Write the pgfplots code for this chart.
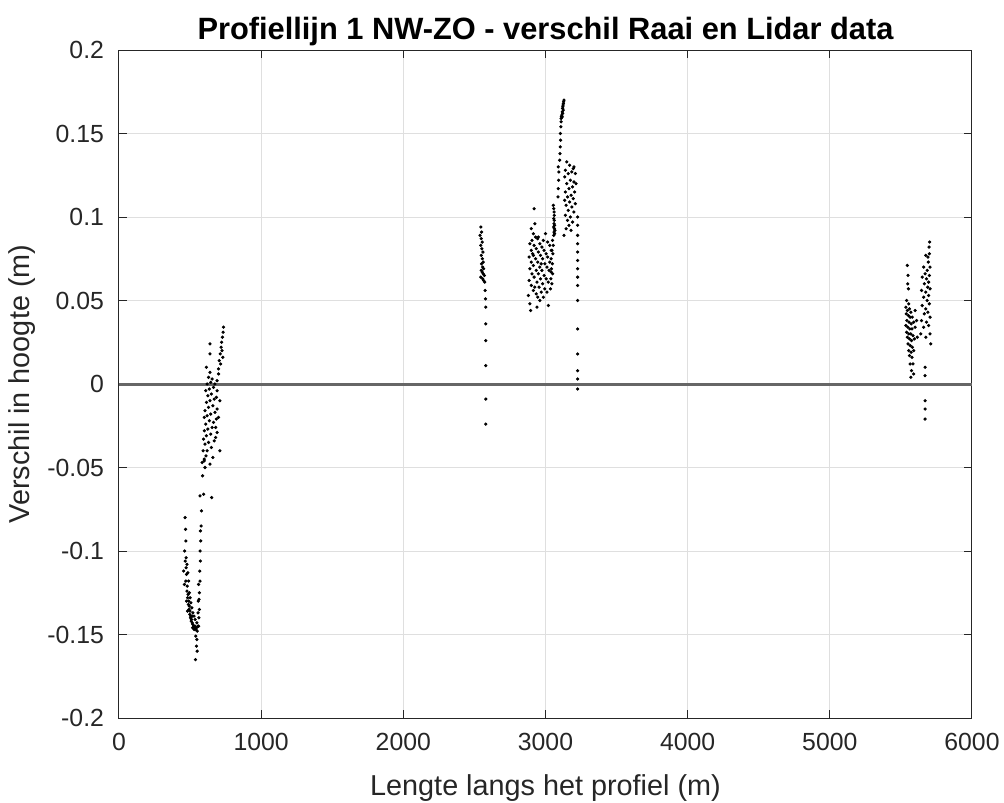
\documentclass[border=0pt]{standalone}
\usepackage{pgfplots}
\pgfplotsset{compat=1.18}
\usepackage{fontspec}
\setmainfont{Liberation Sans}
\definecolor{mgray}{gray}{0.15}
\begin{document}
\begin{tikzpicture}
\useasboundingbox (-59.5bp,-42.5bp) rectangle (442.5bp,359bp);
\begin{axis}[
  scale only axis, width=426.5bp, height=334bp,
  xmin=0, xmax=6000, ymin=-0.2, ymax=0.2,
  xtick={0,1000,2000,3000,4000,5000,6000},
  xticklabels={0,1000,2000,3000,4000,5000,6000},
  ytick={-0.2,-0.15,-0.1,-0.05,0,0.05,0.1,0.15,0.2},
  yticklabels={-0.2,-0.15,-0.1,-0.05,0,0.05,0.1,0.15,0.2},
  tick align=inside, major tick length=4bp,
  xtick pos=both, ytick pos=both,
  axis line style={mgray, line width=0.5bp},
  tick style={mgray, line width=0.5bp},
  grid=major, grid style={gray!25, line width=0.5bp},
  ticklabel style={font=\fontsize{12.4bp}{14bp}\selectfont, text=mgray},
  yticklabel style={xshift=-4bp},
  xticklabel style={yshift=-4bp},
  /pgf/number format/assume math mode=true,
  xlabel={Lengte langs het profiel (m)},
  ylabel={Verschil in hoogte (m)},
  label style={font=\fontsize{14.4bp}{16bp}\selectfont, text=mgray},
  xlabel style={yshift=-5bp},
  ylabel style={yshift=-1bp},
  title={Profiellijn 1 NW-ZO - verschil Raai en Lidar data},
  title style={font=\fontsize{15.4bp}{17bp}\selectfont\bfseries, yshift=-7.5bp},
]
\addplot[no marks, black!60, line width=1.5bp] coordinates {(0,0) (6000,0)};
\addplot[only marks, mark=*, mark size=0.6bp, black] coordinates {
(465,-0.080)(468,-0.087)(470,-0.094)(462,-0.100)(466,-0.106)(472,-0.110)(475,-0.114)(470,-0.118)(480,-0.121)(478,-0.124)(486,-0.126)(483,-0.128)(490,-0.130)(488,-0.132)(495,-0.133)(492,-0.135)(500,-0.136)(498,-0.138)(505,-0.139)(503,-0.140)(510,-0.141)(508,-0.142)(515,-0.143)(520,-0.144)(525,-0.145)(518,-0.146)(530,-0.146)(528,-0.147)(535,-0.145)(540,-0.147)(545,-0.146)(550,-0.148)(555,-0.145)(548,-0.143)(536,-0.141)(528,-0.139)(520,-0.137)(512,-0.134)(506,-0.131)(500,-0.128)(495,-0.125)(490,-0.118)(484,-0.113)(478,-0.108)(472,-0.104)(455,-0.112)(460,-0.120)(475,-0.130)(482,-0.136)(515,-0.139)(540,-0.151)(545,-0.157)(550,-0.160)(538,-0.165)(548,-0.153)
(560,-0.145)(562,-0.140)(565,-0.135)(558,-0.130)(566,-0.125)(570,-0.118)(568,-0.112)(572,-0.106)(570,-0.100)(575,-0.094)(573,-0.088)(578,-0.085)(560,-0.120)(556,-0.137)(563,-0.129)
(580,-0.076)(570,-0.067)(595,-0.066)(588,-0.055)(585,-0.047)(592,-0.040)(600,-0.045)(605,-0.050)
(600,-0.046)(612,-0.043)(640,-0.048)(660,-0.044)(620,-0.040)(650,-0.038)(605,-0.036)(630,-0.035)(670,-0.034)(615,-0.031)(645,-0.030)(680,-0.032)(600,-0.028)(625,-0.027)(655,-0.026)(690,-0.029)(610,-0.024)(635,-0.022)(665,-0.023)(685,-0.021)(620,-0.019)(645,-0.018)(675,-0.017)(605,-0.016)(630,-0.014)(660,-0.013)(690,-0.015)(615,-0.011)(640,-0.010)(670,-0.009)(625,-0.007)(650,-0.006)(685,-0.008)(610,-0.004)(635,-0.003)(665,-0.002)(690,-0.004)(620,0.000)(645,0.001)(675,0.000)(630,0.004)(655,0.003)(690,0.002)(640,0.007)(615,0.010)(700,0.006)(680,-0.026)(700,-0.020)(710,-0.010)(600,-0.020)(595,-0.033)(652,-0.068)(640,0.024)(640,0.018)(710,-0.040)
(700,0.009)(705,0.014)(712,0.018)(718,0.022)(722,0.025)(728,0.028)(732,0.031)(735,0.034)(725,0.020)(715,0.012)(730,0.016)
(2545,0.094)(2550,0.091)(2540,0.089)(2548,0.087)(2555,0.085)(2545,0.083)(2552,0.081)(2560,0.079)(2548,0.077)(2556,0.075)(2562,0.073)(2550,0.072)(2558,0.070)(2565,0.069)(2548,0.068)(2555,0.067)(2562,0.066)(2570,0.065)(2545,0.064)(2558,0.063)(2565,0.062)(2572,0.061)(2575,0.056)(2578,0.051)(2580,0.046)(2580,0.036)(2580,0.026)(2580,0.011)(2580,-0.009)(2580,-0.024)
(2920,0.105)(2925,0.096)(2900,0.093)(2915,0.090)(2930,0.088)(2905,0.086)(2945,0.087)(2890,0.084)(2920,0.083)(2960,0.084)(2935,0.081)(2975,0.082)(2900,0.080)(2950,0.079)(2990,0.080)(2915,0.077)(2965,0.077)(3005,0.078)(2885,0.076)(2930,0.075)(2980,0.075)(3015,0.076)(2900,0.073)(2945,0.073)(2995,0.072)(3030,0.073)(2915,0.071)(2960,0.070)(3010,0.070)(2890,0.069)(2935,0.068)(2975,0.068)(3025,0.068)(2905,0.066)(2950,0.066)(2990,0.065)(3040,0.067)(2920,0.064)(2965,0.063)(3005,0.063)(2885,0.062)(2940,0.061)(2980,0.060)(3020,0.061)(2900,0.059)(2955,0.058)(2995,0.057)(2915,0.056)(2970,0.055)(3010,0.055)(2880,0.053)(2935,0.054)(2985,0.052)(2960,0.050)(2890,0.048)(2940,0.046)(2895,0.044)(3020,0.047)(2950,0.088)(2985,0.086)(3000,0.090)(3015,0.085)(3030,0.083)(3040,0.080)(2910,0.078)(2970,0.072)(2925,0.058)(2945,0.052)
(3055,0.107)(3058,0.105)(3060,0.103)(3062,0.101)(3058,0.099)(3062,0.098)(3060,0.096)(3064,0.095)(3058,0.094)(3062,0.093)(3066,0.092)(3060,0.091)(3064,0.090)(3058,0.089)(3050,0.086)(3055,0.083)(3045,0.080)(3052,0.078)(3040,0.075)(3048,0.072)(3042,0.069)(3050,0.066)(3038,0.063)(3045,0.060)(3035,0.057)
(3088,0.112)(3090,0.117)(3092,0.122)(3094,0.127)(3090,0.130)
(3100,0.134)(3102,0.138)(3104,0.142)(3106,0.146)(3105,0.150)(3108,0.154)(3110,0.157)(3112,0.160)(3110,0.159)
(3115,0.161)(3118,0.163)(3120,0.165)(3122,0.166)(3124,0.167)(3126,0.168)(3128,0.169)(3130,0.170)(3118,0.160)(3121,0.162)(3125,0.164)
(3150,0.133)(3170,0.131)(3195,0.129)(3140,0.128)(3185,0.127)(3160,0.126)(3210,0.126)(3135,0.124)(3175,0.122)(3200,0.121)(3150,0.120)(3190,0.118)(3165,0.117)(3140,0.115)(3205,0.115)(3180,0.113)(3155,0.112)(3195,0.111)(3135,0.110)(3170,0.109)(3210,0.108)(3145,0.107)(3185,0.106)(3160,0.104)(3200,0.103)(3140,0.101)(3175,0.100)(3155,0.098)(3190,0.097)(3165,0.095)(3145,0.093)(3180,0.092)(3130,0.089)(3200,0.130)(3215,0.120)
(3226,0.100)(3226,0.095)(3226,0.089)(3226,0.084)(3226,0.079)(3226,0.074)(3226,0.069)(3226,0.064)(3226,0.059)(3226,0.050)(3226,0.033)(3226,0.018)(3226,0.008)(3226,0.003)(3226,-0.003)
(5545,0.071)(5550,0.065)(5548,0.060)(5553,0.057)(5540,0.050)(5555,0.048)(5535,0.046)(5560,0.045)(5545,0.044)(5570,0.043)(5538,0.042)(5552,0.041)(5565,0.040)(5580,0.040)(5542,0.038)(5558,0.037)(5572,0.036)(5590,0.037)(5535,0.035)(5548,0.034)(5562,0.033)(5578,0.033)(5600,0.034)(5540,0.031)(5555,0.030)(5570,0.030)(5585,0.029)(5545,0.028)(5560,0.027)(5575,0.026)(5595,0.027)(5550,0.024)(5565,0.023)(5580,0.022)(5555,0.020)(5572,0.019)(5590,0.020)(5560,0.017)(5578,0.016)(5565,0.012)(5585,0.012)(5575,0.008)(5570,0.004)(5590,0.006)(5600,0.044)(5610,0.038)(5615,0.028)
(5702,0.085)(5698,0.082)(5700,0.078)(5690,0.076)(5675,0.077)(5693,0.073)(5705,0.070)(5660,0.070)(5685,0.068)(5670,0.066)(5700,0.065)(5650,0.064)(5680,0.063)(5695,0.061)(5665,0.060)(5688,0.058)(5705,0.057)(5645,0.056)(5675,0.055)(5695,0.053)(5660,0.052)(5685,0.050)(5700,0.048)(5650,0.047)(5675,0.045)(5690,0.043)(5665,0.042)(5705,0.040)(5645,0.038)(5680,0.037)(5695,0.035)(5660,0.034)(5705,0.030)(5675,0.028)(5640,0.030)(5710,0.024)(5670,0.010)(5670,0.005)(5670,-0.010)(5670,-0.015)(5670,-0.021)
};
\end{axis}
\end{tikzpicture}
\end{document}
